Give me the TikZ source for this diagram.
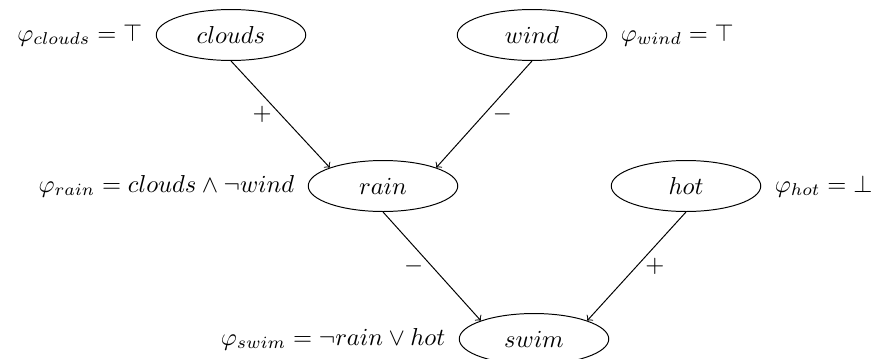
\documentclass[tikz,border=0pt]{standalone}
\usetikzlibrary{shapes.geometric}
\begin{document}
\begin{tikzpicture}[x=0.408pt,y=-0.408pt,
  var/.style={draw, ellipse, minimum width=61pt, minimum height=20.8pt, inner sep=1pt},
  conn/.style={->},
  sign/.style={midway},
  every label/.style={label distance=2pt}]
\useasboundingbox (0,0) rectangle (877,358);
\node[var, label={[label distance=2pt]left:$\varphi_{clouds} = \top$}] (clouds) at (231,35) {$clouds$};
\node[var, label={[label distance=2pt]right:$\varphi_{wind} = \top$}] (wind) at (532,35) {$wind$};
\node[var, label={[label distance=2pt]left:$\varphi_{rain} = clouds \land \neg wind$}] (rain) at (383,186) {$rain$};
\node[var, label={[label distance=2pt]right:$\varphi_{hot} = \bot$}] (hot) at (686,186) {$hot$};
\node[var, label={[label distance=2pt]left:$\varphi_{swim} = \neg rain \lor hot$}] (swim) at (534,339) {$swim$};
\draw[conn] (clouds.south) -- node[sign, left] {$+$} (rain.north west);
\draw[conn] (wind.south) -- node[sign, right] {$-$} (rain.north east);
\draw[conn] (rain.south) -- node[sign, left] {$-$} (swim.north west);
\draw[conn] (hot.south) -- node[sign, right] {$+$} (swim.north east);
\end{tikzpicture}
\end{document}
